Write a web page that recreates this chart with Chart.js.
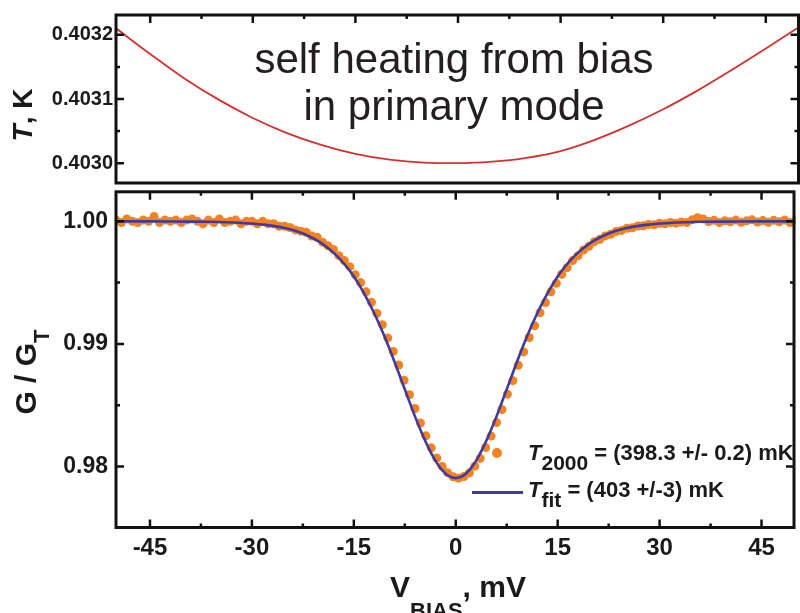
<!DOCTYPE html>
<html>
<head>
<meta charset="utf-8">
<script src="https://cdn.jsdelivr.net/npm/chart.js@4.4.0/dist/chart.umd.min.js"></script>
<style>
body{margin:0;background:#fff;}
#wrap{position:relative;width:800px;height:613px;overflow:hidden;font-family:"Liberation Sans",Arial,Helvetica,sans-serif;color:#1a1a1a;}
canvas{position:absolute;left:0;}
.txt{position:absolute;white-space:nowrap;line-height:1;}
.b{font-weight:bold;}
.rot{transform:translate(-50%,-50%) rotate(-90deg);font-weight:bold;}
.sb{position:relative;}
</style>
</head>
<body>
<div id="wrap">
  <canvas id="graficoT" width="800" height="200" style="top:0"></canvas>
  <canvas id="graficoG" width="800" height="443" style="top:170px"></canvas>

  <div class="txt" style="left:454px;top:37.7px;font-size:42px;color:#231f20;transform:translateX(-50%)">self heating from bias</div>
  <div class="txt" style="left:454px;top:84.5px;font-size:42px;color:#231f20;transform:translateX(-50%)">in primary mode</div>

  <div class="txt rot" style="left:23px;top:115px;font-size:28px;"><i>T</i>, K</div>
  <div class="txt rot" style="left:26px;top:372px;font-size:30px;">G / G<span class="sb" style="top:13px;font-size:22px">T</span></div>
  <div class="txt b" style="left:390px;top:571.6px;font-size:30px;">V<span class="sb" style="top:21px;font-size:22px">BIAS</span>, mV</div>

  <div style="position:absolute;left:492px;top:448px;width:10px;height:10px;border-radius:50%;background:#f58220"></div>
  <div style="position:absolute;left:472px;top:490.5px;width:51px;height:3px;background:#3f3aa0"></div>
  <div class="txt b" style="left:528px;top:442.4px;font-size:22px;"><i>T</i><span class="sb" style="top:9.5px;font-size:21px">2000</span> = (398.3 +/- 0.2) mK</div>
  <div class="txt b" style="left:528px;top:479.4px;font-size:22px;"><i>T</i><span class="sb" style="top:9.5px;font-size:21px">fit</span> = (403 +/-3) mK</div>
</div>

<script>
// panel superior: temperatura por autocalentamiento (K)
var tempBias = [-50, -45, -40, -35, -30, -25, -20, -15, -10, -5, 0, 5, 10, 15, 20, 25, 30, 35, 40, 45, 50];
var tempK = [0.403210, 0.403170, 0.403132, 0.403099, 0.4030705, 0.403047, 0.4030285, 0.4030145, 0.4030055, 0.403001,
             0.4030002, 0.4030025, 0.4030085, 0.403019, 0.4030365, 0.4030585, 0.403084, 0.403113, 0.403145, 0.4031785, 0.403213];

// panel inferior: medidas G/GT (puntos naranjas)
var biasMV = [-50, -49.2, -48.4, -47.6, -46.8, -46, -45.2, -44.4, -43.6, -42.8,
  -42, -41.2, -40.4, -39.6, -38.8, -38, -37.2, -36.4, -35.6, -34.8,
  -34, -33.2, -32.4, -31.6, -30.8, -30, -29.2, -28.4, -27.6, -26.8,
  -26, -25.2, -24.4, -23.6, -22.8, -22, -21.2, -20.4, -19.6, -18.8,
  -18, -17.2, -16.4, -15.6, -14.8, -14, -13.2, -12.4, -11.6, -10.8,
  -10, -9.2, -8.4, -7.6, -6.8, -6, -5.2, -4.4, -3.6, -2.8,
  -2, -1.2, -0.4, 0.4, 1.2, 2, 2.8, 3.6, 4.4, 5.2,
  6, 6.8, 7.6, 8.4, 9.2, 10, 10.8, 11.6, 12.4, 13.2,
  14, 14.8, 15.6, 16.4, 17.2, 18, 18.8, 19.6, 20.4, 21.2,
  22, 22.8, 23.6, 24.4, 25.2, 26, 26.8, 27.6, 28.4, 29.2,
  30, 30.8, 31.6, 32.4, 33.2, 34, 34.8, 35.6, 36.4, 37.2,
  38, 38.8, 39.6, 40.4, 41.2, 42, 42.8, 43.6, 44.4, 45.2,
  46, 46.8, 47.6, 48.4, 49.2, 50];
var gMedida = [1.0001, 0.9999, 1.0002, 1.0000, 0.9999, 1.0001, 1.0000, 1.0004, 0.9999, 1.0001,
  1.0000, 1.0001, 0.9999, 1.0001, 1.0002, 1.0000, 0.9998, 1.0001, 0.9999, 1.0002,
  0.9999, 1.0000, 1.0001, 0.9998, 1.0000, 1.0000, 0.9998, 1.0000, 0.9998, 0.9998,
  0.9996, 0.9996, 0.9995, 0.9993, 0.9992, 0.9991, 0.9988, 0.9987, 0.9983, 0.9980,
  0.9977, 0.9972, 0.9968, 0.9963, 0.99565, 0.9950, 0.99425, 0.9934, 0.9925, 0.99157,
  0.99049, 0.98939, 0.98828, 0.98704, 0.98586, 0.98473, 0.98355, 0.98250, 0.98152, 0.98069,
  0.98001, 0.97950, 0.97916, 0.97905, 0.97918, 0.97948, 0.98003, 0.98066, 0.98155, 0.98248,
  0.98358, 0.98465, 0.98590, 0.98700, 0.98826, 0.98935, 0.99052, 0.99148, 0.99254, 0.99337,
  0.99425, 0.99494, 0.99568, 0.99622, 0.99680, 0.99720, 0.99766, 0.99797, 0.99834, 0.99853,
  0.99881, 0.99895, 0.99918, 0.99926, 0.99943, 0.99947, 0.99962, 0.99963, 0.99975, 0.99972,
  0.99984, 0.99980, 0.99990, 0.99985, 0.99994, 0.99990, 1.00012, 1.00030, 1.00020, 0.99998,
  1.00008, 0.99990, 1.00005, 0.99996, 1.00010, 0.99992, 1.00004, 1.00012, 0.99994, 1.00006,
  0.99992, 1.00008, 0.99996, 1.00010, 0.99990, 1.00006];

// curva de ajuste (linea azul)
var ajusteBias = [-50, -45, -40, -36, -34, -32, -30, -28, -26, -25, -24, -23, -22, -21, -20, -19, -18, -17, -16, -15,
  -14, -13, -12, -11, -10, -9, -8, -7, -6, -5, -4, -3, -2, -1, 0,
  1, 2, 3, 4, 5, 6, 7, 8, 9, 10, 11, 12, 13, 14, 15, 16, 17, 18, 19, 20,
  21, 22, 23, 24, 25, 26, 28, 30, 32, 34, 36, 40, 45, 50];
var ajusteG = [1.0000, 1.0000, 0.99998, 0.99996, 0.99993, 0.99989, 0.99982, 0.99971, 0.99955, 0.99943,
  0.99929, 0.99911, 0.99889, 0.99862, 0.99831, 0.99791, 0.99745, 0.99690, 0.99625, 0.99550,
  0.99461, 0.99362, 0.99250, 0.99128, 0.98996, 0.98853, 0.98704, 0.98556, 0.98409, 0.98274,
  0.98152, 0.98048, 0.97970, 0.97921, 0.97905,
  0.97921, 0.97970, 0.98048, 0.98152, 0.98274, 0.98409, 0.98556, 0.98704, 0.98853, 0.98996,
  0.99128, 0.99250, 0.99362, 0.99461, 0.99550, 0.99625, 0.99690, 0.99745, 0.99791, 0.99831,
  0.99862, 0.99889, 0.99911, 0.99929, 0.99943, 0.99955, 0.99971, 0.99982, 0.99989, 0.99993,
  0.99996, 0.99998, 1.0000, 1.0000];

// marcas de los ejes
var xMayores = [-45, -30, -15, 0, 15, 30, 45];
var xMenores = [-37.5, -22.5, -7.5, 7.5, 22.5, 37.5];
var tMayores = [0.4030, 0.4031, 0.4032];
var tMenores = [0.40305, 0.40315];
var gMayores = [0.98, 0.99, 1.00];
var gMenores = [0.985, 0.995];

Chart.defaults.font.family = '"Liberation Sans", Arial, Helvetica, sans-serif';
Chart.defaults.color = '#1a1a1a';

function fijarTicks(valores) {
  return function(scale) {
    scale.ticks = valores.map(function(v) { return {value: v}; });
  };
}

function puntos(xs, ys) {
  return xs.map(function(v, i) { return {x: v, y: ys[i]}; });
}

// dibuja el recuadro y las marcas hacia dentro
function marco(conf) {
  return {
    id: 'marco',
    afterDraw: function(chart) {
      var ctx = chart.ctx;
      var a = chart.chartArea;
      var sx = chart.scales.x;
      var sy = chart.scales.y;
      var der = a.right - 1.5;
      ctx.save();
      ctx.strokeStyle = '#111';
      ctx.lineWidth = 3;
      ctx.strokeRect(a.left, a.top, der - a.left, a.bottom - a.top);
      ctx.lineWidth = 2.5;
      ctx.beginPath();
      function rayaX(v, largo) {
        var px = sx.getPixelForValue(v);
        if (conf.arriba) { ctx.moveTo(px, a.top); ctx.lineTo(px, a.top + largo); }
        if (conf.abajo) { ctx.moveTo(px, a.bottom); ctx.lineTo(px, a.bottom - largo); }
      }
      function rayaY(v, largo) {
        var py = sy.getPixelForValue(v);
        ctx.moveTo(a.left, py); ctx.lineTo(a.left + largo, py);
        ctx.moveTo(der, py); ctx.lineTo(der - largo, py);
      }
      xMayores.forEach(function(v) { rayaX(v, 8); });
      xMenores.forEach(function(v) { rayaX(v, 4); });
      conf.yMay.forEach(function(v) { rayaY(v, 8); });
      conf.yMen.forEach(function(v) { rayaY(v, 4); });
      ctx.stroke();
      ctx.restore();
    }
  };
}

var graficoT = new Chart(document.getElementById('graficoT').getContext('2d'), {
  type: 'scatter',
  data: {
    datasets: [{
      data: puntos(tempBias, tempK),
      showLine: true,
      borderColor: '#d6302f',
      borderWidth: 1.8,
      pointRadius: 0,
      cubicInterpolationMode: 'monotone'
    }]
  },
  options: {
    responsive: false,
    animation: false,
    devicePixelRatio: 1,
    layout: {padding: {top: 13, bottom: 17, left: 0, right: 0}},
    plugins: {legend: {display: false}, tooltip: {enabled: false}},
    scales: {
      x: {type: 'linear', min: -50, max: 50, display: false},
      y: {
        type: 'linear',
        min: 0.40296923,
        max: 0.40323077,
        afterFit: function(s) { s.width = 116; },
        afterBuildTicks: fijarTicks(tMayores),
        grid: {display: false, drawTicks: false},
        border: {display: false},
        ticks: {
          padding: 3,
          font: {size: 20, weight: 'bold'},
          callback: function(v) { return v.toFixed(4); }
        }
      }
    }
  },
  plugins: [marco({arriba: true, abajo: false, yMay: tMayores, yMen: tMenores})]
});

var graficoG = new Chart(document.getElementById('graficoG').getContext('2d'), {
  type: 'scatter',
  data: {
    datasets: [{
      data: puntos(ajusteBias, ajusteG),
      showLine: true,
      borderColor: '#3f3aa0',
      borderWidth: 2.6,
      pointRadius: 0,
      cubicInterpolationMode: 'monotone',
      order: 0
    }, {
      data: puntos(biasMV, gMedida),
      backgroundColor: '#f58220',
      borderWidth: 0,
      pointRadius: 4.5,
      order: 1
    }]
  },
  options: {
    responsive: false,
    animation: false,
    devicePixelRatio: 1,
    layout: {padding: {top: 13, bottom: 0, left: 0, right: 0}},
    plugins: {legend: {display: false}, tooltip: {enabled: false}},
    scales: {
      x: {
        type: 'linear',
        min: -50,
        max: 50,
        afterFit: function(s) { s.height = 85.5; },
        afterBuildTicks: fijarTicks(xMayores),
        grid: {display: false, drawTicks: false},
        border: {display: false},
        ticks: {
          padding: 6,
          maxRotation: 0,
          autoSkip: false,
          font: {size: 24, weight: 'bold'},
          callback: function(v) { return String(v); }
        }
      },
      y: {
        type: 'linear',
        min: 0.975024,
        max: 1.002409,
        afterFit: function(s) { s.width = 116; },
        afterBuildTicks: fijarTicks(gMayores),
        grid: {display: false, drawTicks: false},
        border: {display: false},
        ticks: {
          padding: 8,
          font: {size: 23, weight: 'bold'},
          callback: function(v) { return v.toFixed(2); }
        }
      }
    }
  },
  plugins: [marco({arriba: true, abajo: true, yMay: gMayores, yMen: gMenores})]
});
</script>
</body>
</html>
